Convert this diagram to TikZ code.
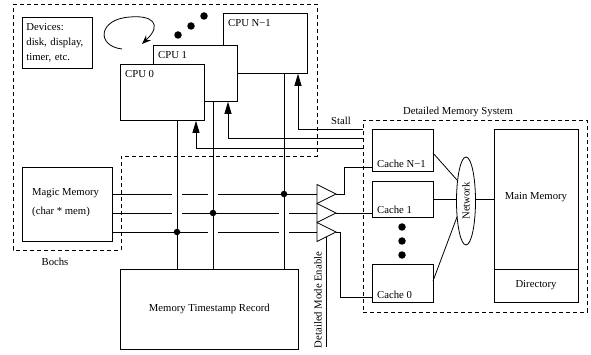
\documentclass[tikz,border=0pt]{standalone}
\usepackage{fontspec}
\setmainfont{Liberation Serif}
\usetikzlibrary{arrows.meta,shapes.geometric,calc}
\begin{document}
\begin{tikzpicture}[x=1pt,y=-1pt,
  font=\fontsize{10.7}{15}\selectfont,
  box/.style={draw, fill=white, line width=0.8pt, inner sep=0pt, anchor=north west},
  wire/.style={line width=0.8pt},
  region/.style={draw, line width=0.8pt, dash pattern=on 4pt off 3pt},
  lbl/.style={anchor=base west, inner sep=0pt},
  jdot/.style={circle, fill, inner sep=0pt, minimum size=6.5pt},
  bigdot/.style={circle, fill, inner sep=0pt, minimum size=7.5pt},
  gap/.style={draw=white, line width=2.5pt},
  stallarrow/.style={wire, -{Triangle[length=12pt,width=7pt]}},
  buf/.style={draw, fill=white, line width=0.8pt, line join=miter}]
\useasboundingbox (0,0) rectangle (591,355);

% Bochs region (L shape)
\draw[region] (13,4) -- (317,4) -- (317,156) -- (121,156) -- (121,250) -- (13,250) -- cycle;
\node (bochs) at (55,262) {Bochs};

% Devices
\node[box, minimum width=70pt, minimum height=51pt, align=left, text width=62pt, inner xsep=4pt] (dev) at (22,17) {Devices:\\disk, display,\\timer, etc.};

% loop arrow and dots
\coordinate (loopS) at (122,49);
\coordinate (loopE) at (142,44);
\draw[line width=0.8pt, -{Stealth[length=9pt,width=7pt]}] (loopS) .. controls (96,46) and (98,19) .. (130,17) .. controls (152,15) and (163,24) .. (loopE);
\node[bigdot] (p1) at (178,35) {};
\node[bigdot] (p2) at (191,26) {};
\node[bigdot] (p3) at (204,16) {};

% CPUs
\node[box, minimum width=84pt, minimum height=60pt] (cpuN) at (223,13) {};
\node[lbl] at (228,27) {CPU N−1};
\node[box, minimum width=84pt, minimum height=56pt] (cpu1) at (153,45) {};
\node[lbl] at (158,59) {CPU 1};
\node[box, minimum width=84pt, minimum height=56pt] (cpu0) at (120,64) {};
\node[lbl] at (125,78) {CPU 0};

% Magic memory
\node[box, minimum width=90pt, minimum height=74pt] (magic) at (22,167) {};
\node[lbl] at (32,196) {Magic Memory};
\node[lbl] at (32,215) {(char * mem)};

% Timestamp record
\node[box, minimum width=178pt, minimum height=80pt] (ts) at (120,269) {Memory Timestamp Record};

% Detailed memory system
\node[region, minimum width=224pt, minimum height=192pt, inner sep=0pt, anchor=north west] (dms) at (363,120) {};
\node (dmslbl) at (458,112) {Detailed Memory System};
\node (stall) at (341,121) {Stall};

\node[box, minimum width=61pt, minimum height=42pt] (cN) at (372,129) {};
\node[lbl] at (377,168) {Cache N−1};
\node[box, minimum width=61pt, minimum height=36pt] (c1) at (372,181) {};
\node[lbl] at (377,214) {Cache 1};
\node[box, minimum width=61pt, minimum height=38pt] (c0) at (372,264) {};
\node[lbl] at (377,298) {Cache 0};
\node[bigdot] (q1) at (402,227) {};
\node[bigdot] (q2) at (402,241) {};
\node[bigdot] (q3) at (402,255) {};

\node[draw, ellipse, line width=0.8pt, minimum width=19pt, minimum height=88pt, inner sep=0pt] (net) at (466,201) {};
\node[rotate=90] at (net) {Network};

\node[box, minimum width=84pt, minimum height=173pt] (mm) at (494,129) {};
\draw[wire] (494,269) -- (578,269);
\node (mmlbl) at (536,197) {Main Memory};
\node (dirlbl) at (536,285) {Directory};

% network connections
\draw[wire] (433,153) -- (457,180);
\draw[wire] (c1.east) -- (net.west |- c1.east);
\draw[wire] (433,281) -- (457,217);
\draw[wire] (net.east |- 0,199) -- (mm.west |- 0,199);

% buffers
\coordinate (b1) at (317,194);
\coordinate (b2) at (317,213);
\coordinate (b3) at (317,232);
\coordinate (t1) at (336,194);
\coordinate (t2) at (336,213);
\coordinate (t3) at (336,232);

% signal lines
\draw[wire] (magic.east |- b1) -- (b1);
\draw[wire] (magic.east |- b2) -- (b2);
\draw[wire] (magic.east |- b3) -- (b3);
% crossover gaps
\draw[gap] (172,194) -- (182,194);
\draw[gap] (208,194) -- (218,194);
\draw[gap] (172,213) -- (182,213);
\draw[gap] (279,213) -- (289,213);
\draw[gap] (208,232) -- (218,232);
\draw[gap] (279,232) -- (289,232);

\draw[buf] (317,184.5) -- (t1) -- (317,203.5) -- cycle;
\draw[buf] (317,203.5) -- (t2) -- (317,222.5) -- cycle;
\draw[buf] (317,222.5) -- (t3) -- (317,241.5) -- cycle;

% buffer outputs
\draw[wire] (t1) -- (344,194) -- (344,167) -- (cN.west |- 0,167);
\draw[wire] (t2) -- (c1.west |- t2);
\draw[wire] (t3) -- (340,232) -- (340,297) -- (c0.west |- 0,297);

% detailed mode enable
\coordinate (en) at (326,347);
\draw[wire] (326,237) -- (en);
\node[rotate=90] (enlbl) at (318,300) {Detailed Mode Enable};

% CPU to timestamp verticals
\draw[wire] (cpu0.south -| 177,0) -- (ts.north -| 177,0);
\draw[wire] (cpu1.south -| 213,0) -- (ts.north -| 213,0);
\draw[wire] (cpuN.south -| 284,0) -- (ts.north -| 284,0);

% junction dots
\node[jdot] (j1) at (284,194) {};
\node[jdot] (j2) at (213,213) {};
\node[jdot] (j3) at (177,232) {};

% stall arrows
\draw[stallarrow] (dms.west |- 0,148) -- (196,148) -- (cpu0.south -| 196,0);
\draw[stallarrow] (dms.west |- 0,138) -- (228,138) -- (cpu1.south -| 228,0);
\draw[stallarrow] (dms.west |- 0,129) -- (298,129) -- (cpuN.south -| 298,0);
\end{tikzpicture}
\end{document}
